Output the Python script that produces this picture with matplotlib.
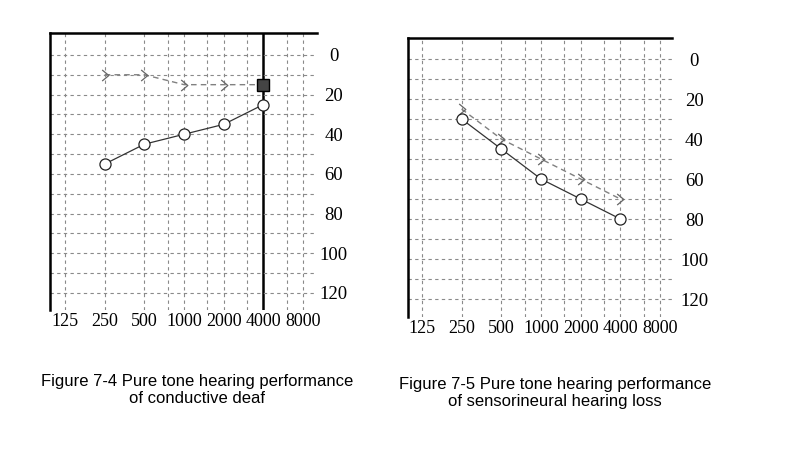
import matplotlib.pyplot as plt
from matplotlib.path import Path
from matplotlib.ticker import NullLocator

###########################################################
# data

tick_freqs = [125, 250, 500, 1000, 2000, 4000, 8000]
half_freqs = [750, 1500, 3000, 6000]
tick_db = [0, 20, 40, 60, 80, 100, 120]
grid_db = [0, 10, 20, 30, 40, 50, 60, 70, 80, 90, 100, 110, 120]

freqs = [250, 500, 1000, 2000, 4000]

# figure 7-4, conductive deafness
cond_air = [55, 45, 40, 35, 25]
cond_bone = [10, 10, 15, 15, 15]

# figure 7-5, sensorineural hearing loss
sens_air = [30, 45, 60, 70, 80]
sens_bone = [25, 40, 50, 60, 70]

captions = ['Figure 7-4 Pure tone hearing performance\nof conductive deaf',
            'Figure 7-5 Pure tone hearing performance\nof sensorineural hearing loss']

# open chevron used for the bone conduction points
chevron = Path([(-0.6, 1.0), (0.6, 0.0), (-0.6, -1.0)],
               [Path.MOVETO, Path.LINETO, Path.LINETO])

###########################################################
# functions

def setup_audiogram(ax, xlim, ylim, solid_freq=None, ylab_pad=10):
    ax.set_xscale('log', base=2)
    ax.set_xlim(xlim)
    ax.set_ylim(ylim)

    for f in tick_freqs + half_freqs:
        if f == solid_freq:
            ax.axvline(f, color='black', lw=1.8, zorder=1)
        else:
            ax.axvline(f, color='#8a8a8a', lw=0.8, ls=(0, (3, 3)), zorder=1)
    for d in grid_db:
        ax.axhline(d, color='#8a8a8a', lw=0.8, ls=(0, (3, 3)), zorder=1)

    ax.set_xticks(tick_freqs)
    ax.set_xticklabels([str(f) for f in tick_freqs])
    ax.xaxis.set_minor_locator(NullLocator())
    ax.set_yticks(tick_db)
    ax.set_yticklabels([str(d) for d in tick_db])
    ax.yaxis.tick_right()
    ax.tick_params(axis='both', length=0)
    ax.tick_params(axis='x', labelsize=13, pad=2)
    ax.tick_params(axis='y', labelsize=13.5, pad=ylab_pad)
    for lab in ax.get_yticklabels():
        lab.set_ha('center')
    for lab in ax.get_xticklabels() + ax.get_yticklabels():
        lab.set_family('Liberation Serif')

    for side in ['right', 'bottom']:
        ax.spines[side].set_visible(False)
    for side in ['left', 'top']:
        ax.spines[side].set_linewidth(1.8)
        ax.spines[side].set_color('black')


###########################################################
# main program

fig = plt.figure(figsize=(7.91, 4.63), dpi=100)

ax1 = fig.add_axes([0.0632, 0.3305, 0.3376, 0.598])
setup_audiogram(ax1, (125 / 2**0.38, 8000 * 2**0.35), (128.6, -11), solid_freq=4000, ylab_pad=12)

ax1.plot(freqs, cond_bone, color='#808080', lw=1.0, ls=(0, (4, 3)), zorder=3)
ax1.plot(freqs[:-1], cond_bone[:-1], ls='none', marker=chevron, ms=8,
         mfc='none', mec='#666666', mew=0.9, zorder=3)
ax1.plot(freqs[-1], cond_bone[-1], marker='s', ms=9, mfc='#444444', mec='black', zorder=4)
ax1.plot(freqs, cond_air, color='#333333', lw=0.9, marker='o', ms=8,
         mfc='white', mec='#222222', mew=0.9, zorder=4)

ax2 = fig.add_axes([0.5158, 0.3153, 0.3338, 0.6026])
setup_audiogram(ax2, (125 / 2**0.35, 8000 * 2**0.30), (129, -10.5), ylab_pad=16)

ax2.plot(freqs, sens_bone, color='#808080', lw=1.0, ls=(0, (4, 3)),
         marker=chevron, ms=8, mfc='none', mec='#666666', mew=0.9, zorder=3)
ax2.plot(freqs, sens_air, color='#333333', lw=0.9, marker='o', ms=8,
         mfc='white', mec='#222222', mew=0.9, zorder=4)

# captions
cap_font = ['Liberation Sans', 'DejaVu Sans']
fig.text(197 / 791, 1 - 390 / 463, captions[0], ha='center', va='center',
         fontsize=12, family=cap_font, linespacing=1.1)
fig.text(555 / 791, 1 - 393 / 463, captions[1], ha='center', va='center',
         fontsize=12, family=cap_font, linespacing=1.1)

plt.savefig('out.png', dpi=100)
